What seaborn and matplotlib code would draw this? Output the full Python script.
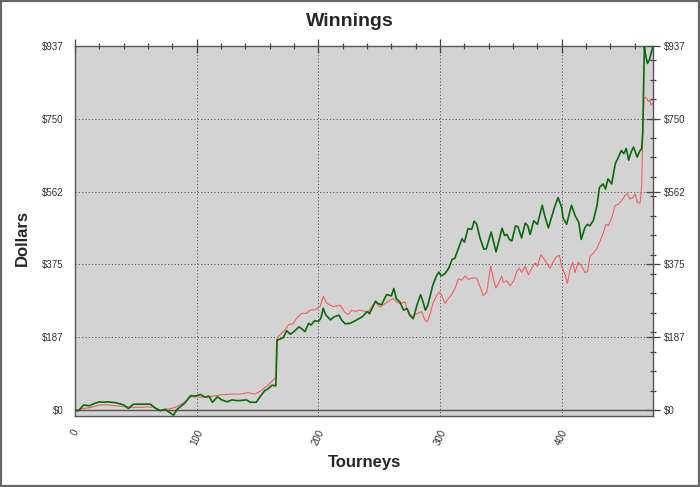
import numpy as np
import pandas as pd
import matplotlib
matplotlib.use("Agg")
import matplotlib.pyplot as plt
import seaborn as sns
from matplotlib.ticker import FixedLocator, MultipleLocator
from matplotlib.patches import Rectangle

# values
green_t = [0, 3, 7, 12, 16, 20, 23, 27, 33, 37, 40, 44, 48, 55, 62, 66, 70, 74, 79, 81,
           84, 90, 95, 99, 103, 107, 110, 113, 117, 120, 125, 129, 134, 141, 144, 149, 152,
           156, 158, 162, 165, 166, 168, 171, 174, 177, 180, 184, 186, 189, 192, 194, 197,
           200, 202, 204, 206, 210, 213, 217, 219, 222, 226, 231, 236, 240, 242, 247, 249,
           252, 256, 260, 262, 264, 267, 270, 273, 275, 278, 281, 284, 286, 288, 290, 294,
           297, 299, 301, 304, 307, 310, 312, 315, 318, 320, 323, 326, 328, 330, 333, 336,
           338, 342, 346, 351, 353, 355, 357, 359, 362, 364, 367, 370, 372, 374, 377, 380,
           384, 386, 389, 392, 394, 397, 400, 401, 404, 408, 411, 414, 416, 419, 421, 423,
           426, 429, 431, 434, 436, 438, 441, 444, 446, 449, 451, 453, 455, 457, 459, 462,
           464, 465.7, 466.6, 467.9, 468.7, 470.4, 472, 475]
green_usd = [0, -2, 13, 11, 17, 21, 20, 21, 19, 16, 13, 4, 15, 15, 15, 5, -2, 2, -9, -13,
             2, 17, 37, 36, 40, 33, 36, 20, 34, 27, 21, 26, 24, 26, 20, 20, 34,
             50, 53, 64, 62, 180, 182, 186, 204, 195, 202, 214, 210, 202, 223, 219, 230,
             228, 236, 262, 245, 232, 240, 244, 232, 222, 223, 231, 240, 253, 248, 280, 274,
             271, 297, 294, 313, 287, 278, 257, 261, 244, 235, 270, 297, 278, 257, 270, 321,
             345, 355, 345, 351, 364, 388, 390, 415, 441, 432, 467, 465, 486, 479, 441, 414,
             415, 458, 407, 468, 449, 452, 439, 435, 474, 472, 443, 481, 475, 452, 487, 478,
             527, 500, 469, 500, 521, 547, 521, 495, 478, 527, 500, 483, 439, 469, 478, 474,
             488, 527, 573, 582, 569, 595, 582, 634, 647, 668, 660, 673, 643, 664, 677, 651,
             666, 673, 716, 936, 918, 892, 901, 937]

red_t = [0, 4, 7, 12, 16, 20, 27, 33, 40, 48, 54, 60, 65, 70, 75, 79, 84, 90, 95, 100,
         105, 109, 114, 120, 128, 136, 142, 148, 153, 158, 164, 165.5, 166.2, 167, 172.6,
         175.3, 179.4, 182.2, 186.3, 190.4, 193.1, 197.3, 201.4, 204.1, 206.8, 212.3, 217.8,
         221.9, 224.6, 227.4, 230.1, 234.2, 238.4, 241.1, 246.6, 250.7, 254.8, 258.9, 261.6,
         264.4, 267.1, 271.2, 272.6, 276.7, 280.8, 284.9, 287.7, 289.6, 291.8, 294.5, 297.3,
         299.4, 301.4, 304.1, 306.8, 309.6, 312.3, 315.1, 317.8, 320.5, 323.3, 326, 330.1,
         332.9, 335.6, 338.4, 341.6, 343.8, 345.8, 347.9, 350.7, 352, 354.8, 357.5, 360.3,
         363, 365.2, 367.1, 369.9, 372.6, 375.3, 378.1, 380, 382.7, 384.9, 387.7, 390.4,
         393.2, 395.4, 398.1, 400, 402.7, 404.6, 406.8, 409, 410.9, 413.7, 416.4, 419.2,
         421.1, 423.3, 426, 428.8, 431.5, 434.2, 436.4, 438.3, 441.1, 443.8, 446.5, 449.3,
         452, 453.9, 456.1, 458.4, 460.3, 462.2, 464.4, 465.7, 466.6, 467.5, 469.3, 471.2,
         472.6, 473.4, 475]
red_usd = [0, 2, 4, 6, 9, 13, 13, 11, 9, 7, 7, 8, 7, 0, 2, 4, 9, 20, 34, 34,
           33, 33, 36, 39, 41, 41, 45, 41, 50, 62, 81, 83, 185, 189, 206,
           219, 223, 236, 249, 249, 257, 258, 266, 293, 275, 266, 270,
           251, 246, 257, 254, 257, 254, 253, 278, 265, 274, 283, 287,
           278, 274, 278, 261, 240, 248, 253, 231, 227, 248, 278, 295,
           304, 295, 274, 287, 297, 313, 338, 334, 345, 336, 340, 340,
           317, 294, 304, 371, 338, 314, 325, 345, 328, 333, 320, 331,
           357, 365, 354, 370, 348, 365, 378, 370, 400, 391, 378, 365,
           383, 394, 398, 370, 348, 326, 361, 380, 354, 381, 370, 354,
           356, 396, 404, 415, 435, 456, 478, 474, 495, 526, 530, 539,
           552, 556, 543, 547, 556, 534, 533, 578, 716, 803, 805, 794,
           798, 785, 790]

y_major = [0, 187.4, 374.8, 562.2, 749.6, 937]
y_labels = ["$0", "$187", "$375", "$562", "$750", "$937"]

sns.set_style("white")
plt.rcParams["font.family"] = ["Liberation Sans", "DejaVu Sans"]

fig = plt.figure(figsize=(7, 4.87), dpi=100)
ax = fig.add_axes([75 / 700, 71 / 487, 578 / 700, 370 / 487])
ax.set_facecolor("#d3d3d3")

ax.grid(True, which="major", linestyle=(0, (1.2, 2.2)), color="#555", lw=0.7)
ax.set_axisbelow(True)
ax.axhline(0, color="#555", lw=1, zorder=1)

red_df = pd.DataFrame({"t": red_t, "usd": red_usd})
green_df = pd.DataFrame({"t": green_t, "usd": green_usd})
sns.lineplot(data=red_df, x="t", y="usd", ax=ax, color="#f06060", lw=0.8,
             estimator=None, sort=False, zorder=2)
sns.lineplot(data=green_df, x="t", y="usd", ax=ax, color="#0b6a0b", lw=1.2,
             estimator=None, sort=False, zorder=3)

ax.set_xlim(0, 475)
ax.set_ylim(-15.4, 937)

ax.xaxis.set_major_locator(MultipleLocator(100))
ax.xaxis.set_minor_locator(MultipleLocator(20))
ax.yaxis.set_major_locator(FixedLocator(y_major))
ax.set_yticklabels(y_labels)
ax.yaxis.set_minor_locator(MultipleLocator(50))

ax.tick_params(which="major", direction="inout", length=10, width=0.9, color="#444",
               labelsize=7, labelcolor="#333", top=True, right=True, labelright=True)
ax.tick_params(which="minor", direction="inout", length=4.5, width=0.9, color="#444",
               top=True, right=True)
ax.tick_params(axis="y", which="major", pad=3)
for lab in ax.get_xticklabels():
    lab.set_rotation(65)

for s in ax.spines.values():
    s.set_color("#555")
    s.set_linewidth(1)

ax.set_xlabel("")
ax.set_ylabel("")
fig.text(0.5, 1 - 22 / 487, "Winnings", ha="center", va="center",
         fontsize=14, fontweight="bold")
fig.text(364 / 700, 1 - 463 / 487, "Tourneys", ha="center", va="center",
         fontsize=12, fontweight="bold")
fig.text(22 / 700, 1 - 238 / 487, "Dollars", ha="center", va="center",
         rotation=90, fontsize=12, fontweight="bold")

fig.patches.append(Rectangle((0, 0), 1, 1, transform=fig.transFigure, fill=False,
                             edgecolor="#666", lw=3))

fig.savefig("out.png", dpi=100)
